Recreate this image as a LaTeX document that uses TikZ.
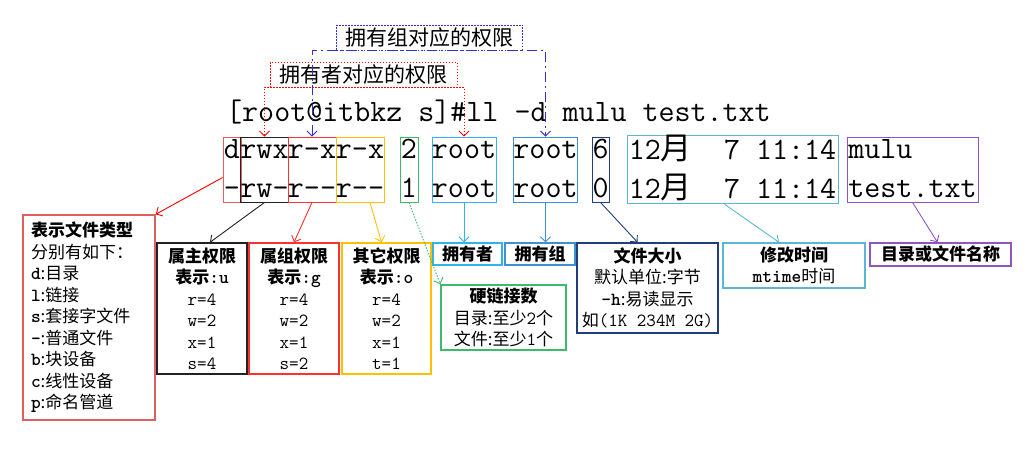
\documentclass[tikz,border=0pt]{standalone}
\usepackage{fontspec}
\usepackage{tikz}
\usepackage{xcolor}
\usetikzlibrary{calc, arrows.meta}
\newfontfamily\cjk{Noto Sans CJK SC}
\newcommand\rowfont{\fontsize{31.1}{39}\selectfont\ttfamily}
\newcommand\descfont{\fontsize{17}{21.5}\selectfont\cjk}
\newcommand\cell[2]{\rule{0pt}{21pt}#1\\\rule[-5pt]{0pt}{5pt}#2}
\newcommand\zh[1]{{\cjk #1}}
\newcommand\lt[1]{{\fontsize{18.5}{21.5}\selectfont\ttfamily #1}}
\newcommand\tb[1]{{\fontsize{18.5}{21.5}\selectfont\ttfamily\bfseries #1}}
\definecolor{typred}{HTML}{E06060}
\definecolor{ownblack}{HTML}{222222}
\definecolor{grpred}{HTML}{FF3030}
\definecolor{othorange}{HTML}{FFC000}
\definecolor{lnkgreen}{HTML}{3DBB6A}
\definecolor{usrcyan}{HTML}{30B4EC}
\definecolor{ugrpblue}{HTML}{3D8FD6}
\definecolor{sizenavy}{HTML}{203E7C}
\definecolor{timeteal}{HTML}{5AB9D2}
\definecolor{namepurple}{HTML}{9155C2}
\definecolor{permblue}{HTML}{3030D0}

\begin{document}
\begin{tikzpicture}[x=1pt, y=-1pt, >={Straight Barb[length=5pt,width=10pt]},
  cellbox/.style={draw=#1, line width=0.9pt, inner sep=0pt, minimum height=65pt, align=center, font=\rowfont},
  descbox/.style={draw=#1, line width=1.4pt, inner sep=0pt, align=center, font=\descfont},
  linkarrow/.style={->, draw=#1, line width=0.9pt},
  dotline/.style={dash pattern=on 1.5pt off 1.5pt}]
  \useasboundingbox (0,0) rectangle (1030,455);
  % command line
  \node[font=\rowfont, anchor=base west, inner sep=0pt] (cmd) at (226,121) {[root@itbkz~s]\#ll~-d~mulu~test.txt};
  % columns of the listing
  \node[cellbox=typred, minimum width=18pt] (typ) at (232,169.5) {\cell{d}{-}};
  \node[cellbox=ownblack, minimum width=47pt] (own) at (264.5,169.5) {\cell{rwx}{rw-}};
  \node[cellbox=grpred, minimum width=48pt] (grp) at (312,169.5) {\cell{r-x}{r--}};
  \node[cellbox=othorange, minimum width=48pt] (oth) at (360,169.5) {\cell{r-x}{r--}};
  \node[cellbox=lnkgreen, minimum width=18pt] (lnk) at (409,169.5) {\cell{2}{1}};
  \node[cellbox=usrcyan, minimum width=62pt] (usr) at (464,169.5) {\cell{root}{root}};
  \node[cellbox=ugrpblue, minimum width=63pt] (ugrp) at (545.5,169.5) {\cell{root}{root}};
  \node[cellbox=sizenavy, minimum width=17pt] (size) at (600.5,169.5) {\cell{6}{0}};
  \node[cellbox=timeteal, minimum width=211pt] (time) at (732.5,169.5) {\cell{12\zh{月}~~7~11:14}{12\zh{月}~~7~11:14}};
  \node[cellbox=namepurple, minimum width=131pt, align=left] (name) at (912.5,169.5) {\cell{mulu}{test.txt}};
  % permission brackets on top
  \node[draw=red, dotline, line width=0.9pt, inner sep=0pt, minimum width=187pt, minimum height=25pt,
    font=\fontsize{21}{24}\selectfont\cjk] (ownperm) at (363.5,74.5) {拥有者对应的权限};
  \node[draw=permblue, dotline, line width=0.9pt, inner sep=0pt, minimum width=186pt, minimum height=25pt,
    font=\fontsize{21}{24}\selectfont\cjk] (grpperm) at (429.5,37.5) {拥有组对应的权限};
  \draw[<->, red, dotline, line width=0.9pt] (own.north) -- (own.north |- ownperm.south)
    -- (usr.north |- ownperm.south) -- (usr.north);
  \draw[<->, permblue, dash pattern=on 10pt off 4pt on 2pt off 4pt, line width=0.9pt] (grp.north)
    -- (grp.north |- grpperm.south) -- (ugrp.north |- grpperm.south) -- (ugrp.north);
  % explanations
  \node[descbox=typred, align=left, text width=116pt, inner xsep=8pt, minimum height=205pt] (typdesc) at (89,317.5)
    {{\bfseries 表示文件类型}\\分别有如下：\\\tb{d}:目录\\\tb{l}:链接\\\tb{s}:套接字文件\\\tb{-}:普通文件\\\tb{b}:块设备\\\tb{c}:线性设备\\\tb{p}:命名管道};
  \node[descbox=ownblack, minimum width=90pt, minimum height=131pt] (owndesc) at (202,308.5)
    {{\bfseries 属主权限}\\{\bfseries 表示\tb{:u}}\\\lt{r=4}\\\lt{w=2}\\\lt{x=1}\\\lt{s=4}};
  \node[descbox=grpred, minimum width=90pt, minimum height=131pt] (grpdesc) at (294,308.5)
    {{\bfseries 属组权限}\\{\bfseries 表示\tb{:g}}\\\lt{r=4}\\\lt{w=2}\\\lt{x=1}\\\lt{s=2}};
  \node[descbox=othorange, minimum width=89pt, minimum height=131pt] (othdesc) at (386.5,308.5)
    {{\bfseries 其它权限}\\{\bfseries 表示\tb{:o}}\\\lt{r=4}\\\lt{w=2}\\\lt{x=1}\\\lt{t=1}};
  \node[descbox=usrcyan, minimum width=69pt, minimum height=22pt] (usrdesc) at (467.5,254) {\bfseries 拥有者};
  \node[descbox=ugrpblue, minimum width=70pt, minimum height=22pt] (ugrpdesc) at (540,254) {\bfseries 拥有组};
  \node[descbox=lnkgreen, minimum width=125pt, minimum height=65pt] (lnkdesc) at (503.5,317.5)
    {{\bfseries 硬链接数}\\目录:至少\lt{2}个\\文件:至少\lt{1}个};
  \node[descbox=sizenavy, minimum width=141pt, minimum height=90pt] (sizedesc) at (647.5,288)
    {{\bfseries 文件大小}\\默认单位:字节\\\tb{-h}:易读显示\\如\lt{(1K~234M~2G)}};
  \node[descbox=timeteal, minimum width=142pt, minimum height=45pt] (timedesc) at (794,265.5)
    {{\bfseries 修改时间}\\\tb{mtime}时间};
  \node[descbox=namepurple, minimum width=141pt, minimum height=23pt] (namedesc) at (940.5,254.5) {\bfseries 目录或文件名称};
  % arrows down to the explanations
  \draw[linkarrow=red] ([yshift=-8pt]typ.west) -- (typdesc.north east);
  \draw[linkarrow=ownblack] (own.south) -- ([xshift=8pt]owndesc.north);
  \draw[linkarrow=grpred] (grp.south) -- (grpdesc.north);
  \draw[linkarrow=othorange] ([xshift=10pt]oth.south) -- ([xshift=-5pt]othdesc.north);
  \draw[linkarrow=lnkgreen, dotline] (lnk.south) -- (lnkdesc.north west);
  \draw[linkarrow=usrcyan] (usr.south) -- (usr.south |- usrdesc.north);
  \draw[linkarrow=ugrpblue] (ugrp.south) -- (ugrp.south |- ugrpdesc.north);
  \draw[linkarrow=sizenavy] (size.south) -- ([xshift=-10pt]sizedesc.north);
  \draw[linkarrow=timeteal] ([xshift=-8pt]time.south) -- ([xshift=-15pt]timedesc.north);
  \draw[linkarrow=namepurple] (name.south) -- ([xshift=-3pt]namedesc.north);
\end{tikzpicture}
\end{document}
